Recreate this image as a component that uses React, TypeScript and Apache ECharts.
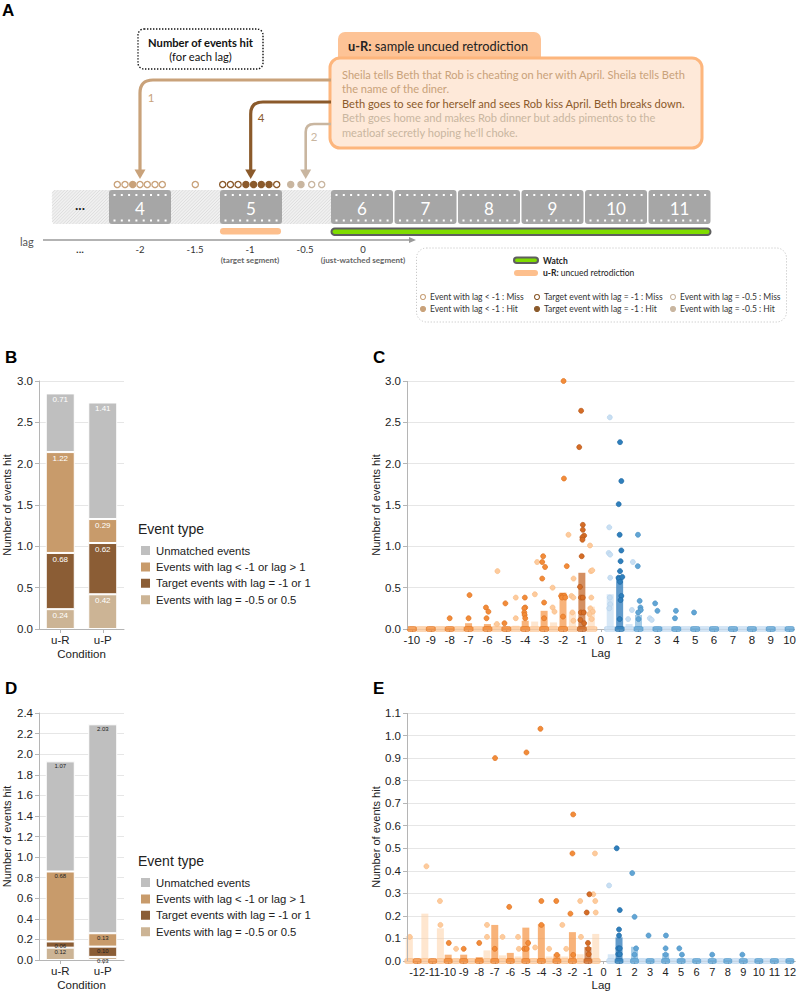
import React, { useEffect, useRef } from 'react';
import * as echarts from 'echarts';

// ---------------- DATA ----------------
const conditions = ['u-R', 'u-P'];
const eventTypes = [
  'Unmatched events',
  'Events with lag < -1 or lag > 1',
  'Target events with lag = -1 or 1',
  'Events with lag = -0.5 or 0.5',
];
// Panel B
const B_unmatched = [0.71, 1.41];
const B_otherLag = [1.22, 0.29];
const B_target = [0.68, 0.62];
const B_halfLag = [0.24, 0.42];
// Panel D
const D_unmatched = [1.07, 2.03];
const D_otherLag = [0.68, 0.13];
const D_target = [0.06, 0.1];
const D_halfLag = [0.12, 0.03];

// Panel C
const C_ticks = [-10, -9, -8, -7, -6, -5, -4, -3, -2, -1, 0, 1, 2, 3, 4, 5, 6, 7, 8, 9, 10];
const C_R_lags = [-10, -9.5, -9, -8.5, -8, -7.5, -7, -6.5, -6, -5.5, -5, -4.5, -4, -3.5, -3, -2.5, -2, -1.5, -1, -0.5];
const C_R_means = [0, 0.005, 0.005, 0.005, 0.01, 0.01, 0.07, 0.015, 0.06, 0.07, 0.02, 0.04, 0.1, 0.09, 0.22, 0.08, 0.44, 0.2, 0.68, 0.27];
const C_P_lags = [0.5, 1, 1.5, 2, 2.5, 3, 3.5, 4, 4.5, 5, 5.5, 6, 6.5, 7, 7.5, 8, 8.5, 9, 9.5, 10];
const C_P_means = [0.42, 0.61, 0.06, 0.17, 0.02, 0.02, 0.01, 0.02, 0.01, 0.01, 0.01, 0.01, 0.005, 0.005, 0.005, 0.005, 0.005, 0.005, 0.005, 0.005];
const C_R_medDots = [
  [-1.97, 3.0], [-1.95, 1.82], [-1.8, 0.76], [-2.1, 0.4], [-2.0, 0.4], [-1.92, 0.4], [-2.05, 0.38], [-1.88, 0.38], [-2.0, 0.15],
  [-3.05, 0.88], [-3.1, 0.81], [-2.95, 0.75], [-3.1, 0.61], [-3.0, 0.32], [-3.0, 0.13],
  [-4.02, 0.38], [-4.0, 0.26], [-4.05, 0.25], [-4.05, 0.2], [-4.03, 0.17], [-4.0, 0.13],
  [-5.05, 0.31], [-5.1, 0.07], [-6.08, 0.26], [-5.95, 0.21], [-6.05, 0.13], [-6.95, 0.41], [-7.0, 0.13], [-8.0, 0.13],
];
const C_R_targetDots = [
  [-1.04, 2.64], [-1.14, 2.2], [-0.95, 1.26], [-0.95, 1.2], [-0.88, 1.13], [-0.97, 1.11], [-0.97, 1.08], [-1.01, 0.88],
  [-1.1, 0.51], [-1.05, 0.38], [-0.95, 0.38], [-1.05, 0.2], [-0.9, 0.2], [-1.08, 0.11], [-0.88, 0.07],
];
const C_R_lightDots = [
  [-5.47, 0.7], [-3.37, 0.81], [-1.71, 1.14], [-0.57, 1.01], [-0.52, 0.7], [-0.45, 0.71], [-1.44, 0.61], [-2.55, 0.5],
  [-3.49, 0.42], [-4.5, 0.38], [-1.55, 0.4], [-1.45, 0.38], [-0.5, 0.38], [-2.55, 0.26], [-2.45, 0.21], [-4.5, 0.13],
  [-0.55, 0.25], [-0.42, 0.21], [-0.6, 0.18], [-0.48, 0.12], [-1.5, 0.2], [-1.45, 0.1], [-5.5, 0.06],
];
const C_P_targetDots = [
  [1.02, 2.26], [1.09, 1.79], [0.95, 1.51], [1.0, 1.14], [1.09, 0.95], [1.05, 0.82], [1.02, 0.7], [0.94, 0.62],
  [0.98, 0.61], [1.14, 0.63], [1.02, 0.57], [1.09, 0.4], [1.05, 0.35], [1.0, 0.12],
];
const C_P_medDots = [
  [1.97, 1.14], [1.96, 0.76], [2.06, 0.34], [2.1, 0.26], [2.12, 0.23], [1.98, 0.2], [2.0, 0.12],
  [2.88, 0.31], [3.0, 0.22], [3.98, 0.22], [3.93, 0.13], [4.94, 0.2],
];
const C_P_lightDots = [
  [0.48, 2.56], [0.45, 1.23], [0.42, 0.92], [0.5, 0.9], [0.5, 0.62], [0.48, 0.38], [0.5, 0.3], [0.45, 0.25],
  [1.7, 0.81], [1.65, 0.23], [1.45, 0.12], [2.6, 0.13], [2.7, 0.11],
];
const C_zeroRMed = [-10, -9, -8, -7, -6, -5, -4, -3, -2];
const C_zeroRTarget = [-1];
const C_zeroRLight = [-9.5, -8.5, -7.5, -6.5, -5.5, -4.5, -3.5, -2.5, -1.5, -0.5];
const C_zeroPTarget = [1];
const C_zeroPMed = [2, 3, 4, 5, 6, 7, 8, 9, 10];
const C_zeroPLight = [0.5, 1.5, 2.5, 3.5, 4.5, 5.5, 6.5, 7.5, 8.5, 9.5];

// Panel E
const E_ticks = [-12, -11, -10, -9, -8, -7, -6, -5, -4, -3, -2, -1, 0, 1, 2, 3, 4, 5, 6, 7, 8, 9, 10, 11, 12];
const E_R_lags = [-12.5, -12, -11.5, -11, -10.5, -10, -9.5, -9, -8.5, -8, -7.5, -7, -6.5, -6, -5.5, -5, -4.5, -4, -3.5, -3, -2.5, -2, -1.5, -1, -0.5];
const E_R_means = [0.11, 0, 0.21, 0, 0.145, 0.028, 0.01, 0.028, 0.01, 0.017, 0.047, 0.16, 0.025, 0.036, 0.02, 0.148, 0.012, 0.163, 0.02, 0.03, 0.02, 0.128, 0.03, 0.062, 0.12];
const E_P_lags = [0.5, 1, 1.5, 2, 2.5, 3, 3.5, 4, 4.5, 5, 5.5, 6, 6.5, 7, 7.5, 8, 8.5, 9, 9.5, 10, 10.5, 11, 11.5, 12];
const E_P_means = [0.03, 0.105, 0.01, 0.063, 0.008, 0.006, 0.006, 0.035, 0.006, 0.01, 0.006, 0.005, 0.005, 0.005, 0.005, 0.005, 0.005, 0.005, 0.005, 0.005, 0.005, 0.005, 0.005, 0.005];
const E_R_medDots = [
  [-4.06, 1.03], [-4.96, 0.925], [-6.98, 0.9], [-1.95, 0.65], [-2.0, 0.477], [-6.07, 0.24], [-4.0, 0.266], [-3.04, 0.266],
  [-2.13, 0.21], [-4.0, 0.16], [-7.0, 0.054], [-5.1, 0.054], [-4.95, 0.054], [-4.85, 0.08], [-3.0, 0.027], [-1.95, 0.027],
  [-9.96, 0.08], [-9.0, 0.054], [-8.0, 0.08],
];
const E_R_targetDots = [[-0.91, 0.296], [-1.08, 0.215], [-1.0, 0.08], [-0.98, 0.054], [-0.95, 0.03]];
const E_R_lightDots = [
  [-11.4, 0.42], [-10.53, 0.266], [-10.5, 0.16], [-12.47, 0.107], [-9.49, 0.054], [-7.5, 0.16], [-7.5, 0.107], [-6.5, 0.107],
  [-5.5, 0.107], [-5.45, 0.054], [-4.4, 0.06], [-3.5, 0.054], [-2.65, 0.16], [-2.4, 0.054], [-1.5, 0.266], [-1.45, 0.107],
  [-0.55, 0.477], [-0.66, 0.296], [-0.53, 0.266], [-0.5, 0.215],
];
const E_P_targetDots = [[0.85, 0.5], [1.05, 0.226], [1.0, 0.14], [1.0, 0.113], [0.95, 0.056], [1.05, 0.056], [0.95, 0.03], [1.05, 0.03]];
const E_P_medDots = [
  [1.85, 0.39], [2.0, 0.196], [2.1, 0.056], [2.0, 0.028], [2.9, 0.113], [4.02, 0.113], [4.0, 0.056], [4.0, 0.028],
  [4.88, 0.056], [5.05, 0.028], [7.0, 0.028], [8.94, 0.028],
];
const E_P_lightDots = [[0.36, 0.335]];
const E_zeroRMed = [-12, -11, -10, -9, -8, -7, -6, -5, -4, -3, -2];
const E_zeroRTarget = [-1];
const E_zeroRLight = [-12.5, -11.5, -10.5, -9.5, -8.5, -7.5, -6.5, -5.5, -4.5, -3.5, -2.5, -1.5, -0.5];
const E_zeroPTarget = [1];
const E_zeroPMed = [2, 3, 4, 5, 6, 7, 8, 9, 10, 11, 12];
const E_zeroPLight = [0.5, 1.5, 2.5, 3.5, 4.5, 5.5, 6.5, 7.5, 8.5, 9.5, 10.5, 11.5];

// Panel A diagram contents
const storyLines = [
  'Sheila tells Beth that Rob is cheating on her with April. Sheila tells Beth',
  'the name of the diner.',
  'Beth goes to see for herself and sees Rob kiss April. Beth breaks down.',
  'Beth goes home and makes Rob dinner but adds pimentos to the',
  "meatloaf secretly hoping he'll choke.",
];
const segmentNumbers = ['4', '5', '6', '7', '8', '9', '10', '11'];
const segmentX = [109, 220, 331, 394.5, 458, 521.5, 585, 648.5];
const lagLabels = ['...', '-2', '-1.5', '-1', '-0.5', '0'];
const lagLabelX = [80, 140, 195, 250, 305, 363];
const dotsOtherX = [117.3, 125, 132.7, 140, 147.3, 155, 162.3, 195.3];
const dotsOtherHit = [0, 0, 1, 0, 0, 0, 0, 0];
const dotsTargetX = [222.7, 230.4, 238.1, 245.9, 253.6, 261.3, 269, 276.7];
const dotsTargetHit = [0, 0, 0, 1, 1, 1, 1, 0];
const dotsHalfX = [290.7, 301, 311.7, 321.7];
const dotsHalfHit = [1, 1, 0, 0];

// ---------------- STYLE ----------------
const FONT = 'Liberation Sans, Arial, sans-serif';
const AFONT = 'Lato, Open Sans, sans-serif';
const COL = {
  unmatched: '#bfbfbf',
  other: '#c89b6b',
  target: '#8b5d35',
  half: '#ccb495',
};
const TAN = '#c9a27a';
const BROWN = '#8b5a2b';
const LTAN = '#c9b6a0';
const DOTS = {
  rMed: { fill: '#f28c3a', stroke: '#e0731f', bar: 'rgba(245,150,70,0.72)' },
  rTarget: { fill: '#d56d26', stroke: '#b8581a', bar: 'rgba(200,112,52,0.78)' },
  rLight: { fill: '#fdcb9d', stroke: '#f9bb84', bar: 'rgba(253,205,160,0.5)' },
  pTarget: { fill: '#2f7fbc', stroke: '#1f6aa5', bar: 'rgba(58,130,190,0.8)' },
  pMed: { fill: '#62a5d4', stroke: '#4a92c6', bar: 'rgba(112,172,216,0.62)' },
  pLight: { fill: '#c9dff2', stroke: '#b6d3ec', bar: 'rgba(196,221,242,0.7)' },
};
const AXIS_GREY = '#b5b5b5';

function barColor(lag: number) {
  if (lag < 0) {
    if (lag === -1) return DOTS.rTarget.bar;
    return Number.isInteger(lag) ? DOTS.rMed.bar : DOTS.rLight.bar;
  }
  if (lag === 1) return DOTS.pTarget.bar;
  return Number.isInteger(lag) ? DOTS.pMed.bar : DOTS.pLight.bar;
}

function txt(x: number, y: number, text: string, o: any = {}) {
  const align = o.align || 'left';
  return {
    type: 'text',
    x,
    y,
    silent: true,
    z: o.z || 10,
    style: {
      text,
      fill: o.color || '#333',
      fontSize: o.size || 10,
      fontWeight: o.weight || 'normal',
      fontFamily: o.font || AFONT,
      align,
      textAlign: align,
      verticalAlign: 'middle',
      textVerticalAlign: 'middle',
      rich: o.rich,
    },
  };
}

// Register arrow paths
echarts.graphic.registerShape('arrowPathA', echarts.graphic.extendPath('M331 80 L153 80 Q140 80 140 93 L140 171', {}));
echarts.graphic.registerShape('arrowPathB', echarts.graphic.extendPath('M331 102 L263 102 Q250.7 102 250.7 114 L250.7 171', {}));
echarts.graphic.registerShape('arrowPathC', echarts.graphic.extendPath('M331 124 L314 124 Q305.7 124 305.7 132 L305.7 171', {}));

function panelA(): any[] {
  const els: any[] = [];
  els.push(txt(2, 10, 'A', { size: 17, weight: 'bold', font: FONT, color: '#000' }));
  // Number of events hit box
  els.push({
    type: 'rect', silent: true, shape: { x: 138, y: 29, width: 125, height: 40, r: 6 },
    style: { fill: 'none', stroke: '#111', lineWidth: 1.4, lineDash: [1.4, 1.6] },
  });
  els.push(txt(200.5, 42, 'Number of events hit', { size: 11.2, weight: 'bold', align: 'center', color: '#111' }));
  els.push(txt(200.5, 56, '(for each lag)', { size: 11.2, align: 'center', color: '#111' }));
  // tab + story box
  els.push({ type: 'rect', silent: true, shape: { x: 338, y: 32, width: 203, height: 32, r: [7, 7, 0, 0] }, style: { fill: '#fdc396' } });
  els.push(txt(348, 46, '{b|u-R:} sample uncued retrodiction', {
    size: 12.8, color: '#222', rich: { b: { fontWeight: 'bold', fontSize: 12.8, fontFamily: AFONT, fill: '#222', color: '#222' } },
  }));
  els.push({
    type: 'rect', silent: true, shape: { x: 330, y: 58, width: 372, height: 90, r: 10 },
    style: { fill: '#fee9d9', stroke: '#fdb67d', lineWidth: 3 },
  });
  const lineCols = [TAN, TAN, BROWN, LTAN, LTAN];
  storyLines.forEach((s, i) => {
    els.push(txt(342, 74 + i * 14.5, s, { size: 11.1, color: lineCols[i] }));
  });
  // arrows
  els.push({ type: 'arrowPathA', silent: true, style: { fill: 'none', stroke: TAN, lineWidth: 3.2 } });
  els.push({ type: 'arrowPathB', silent: true, style: { fill: 'none', stroke: BROWN, lineWidth: 3.2 } });
  els.push({ type: 'arrowPathC', silent: true, style: { fill: 'none', stroke: LTAN, lineWidth: 2.6 } });
  [[140, TAN], [250.7, BROWN], [305.7, LTAN]].forEach(([x, c]: any) => {
    els.push({ type: 'polygon', silent: true, shape: { points: [[x - 5.5, 169.5], [x + 5.5, 169.5], [x, 179]] }, style: { fill: c } });
  });
  els.push(txt(151, 97, '1', { size: 11.5, color: TAN, align: 'center' }));
  els.push(txt(261, 117, '4', { size: 11.5, color: BROWN, align: 'center' }));
  els.push(txt(314, 136, '2', { size: 11.5, color: LTAN, align: 'center' }));
  // dots
  const dot = (x: number, hit: number, c: string) => ({
    type: 'circle', silent: true, shape: { cx: x, cy: 184.5, r: 3.1 },
    style: { fill: hit ? c : '#fff', stroke: c, lineWidth: 1.3 },
  });
  dotsOtherX.forEach((x, i) => els.push(dot(x, dotsOtherHit[i], TAN)));
  dotsTargetX.forEach((x, i) => els.push(dot(x, dotsTargetHit[i], BROWN)));
  dotsHalfX.forEach((x, i) => els.push(dot(x, dotsHalfHit[i], LTAN)));
  // hatched band
  const bx = 52, by = 190, bw = 280, bh = 34;
  els.push({ type: 'rect', silent: true, shape: { x: bx, y: by, width: bw, height: bh, r: [4, 0, 0, 4] }, style: { fill: '#f0f0f0' } });
  for (let t = bx - bh; t < bx + bw; t += 3.2) {
    let x1 = t, y1 = by + bh, x2 = t + bh, y2 = by;
    if (x1 < bx) { y1 = by + bh - (bx - x1); x1 = bx; }
    if (x2 > bx + bw) { y2 = by + (x2 - (bx + bw)); x2 = bx + bw; }
    els.push({ type: 'line', silent: true, shape: { x1, y1, x2, y2 }, style: { stroke: '#d6d6d6', lineWidth: 0.7 } });
  }
  els.push(txt(80, 206, '...', { size: 12, weight: 'bold', color: '#222', align: 'center', font: FONT }));
  // film frames
  segmentNumbers.forEach((n, i) => {
    const x = segmentX[i], w = 62;
    els.push({ type: 'rect', silent: true, shape: { x, y: 190, width: w, height: 34, r: 3 }, style: { fill: '#a6a6a6' } });
    els.push({ type: 'line', silent: true, shape: { x1: x + 4.5, y1: 195, x2: x + w - 3, y2: 195 }, style: { stroke: '#fff', lineWidth: 2, lineDash: [2, 5.3] } });
    els.push({ type: 'line', silent: true, shape: { x1: x + 4.5, y1: 220.5, x2: x + w - 3, y2: 220.5 }, style: { stroke: '#fff', lineWidth: 2, lineDash: [2, 5.3] } });
    els.push(txt(x + w / 2, 208, n, { size: 17, color: '#fff', align: 'center' }));
  });
  // retrodiction and watch bars
  els.push({ type: 'rect', silent: true, shape: { x: 220, y: 228, width: 61, height: 6.5, r: 3.2 }, style: { fill: '#fdbf8d' } });
  els.push({ type: 'rect', silent: true, shape: { x: 331.5, y: 228.5, width: 379, height: 6.5, r: 3.5 }, style: { fill: '#7fdc00', stroke: '#5e5e5e', lineWidth: 2 } });
  // lag axis
  els.push(txt(20, 241, 'lag', { size: 11, color: '#555' }));
  els.push({ type: 'line', silent: true, shape: { x1: 43, y1: 240, x2: 412, y2: 240 }, style: { stroke: '#9a9a9a', lineWidth: 1.3 } });
  els.push({ type: 'polygon', silent: true, shape: { points: [[409, 237], [416, 240], [409, 243]] }, style: { fill: '#9a9a9a' } });
  lagLabels.forEach((l, i) => els.push(txt(lagLabelX[i], 249, l, {
    size: 9.5, color: '#333', align: 'center', font: l === '...' ? FONT : AFONT, weight: l === '...' ? 'bold' : 'normal',
  })));
  els.push(txt(250, 259.5, '(target segment)', { size: 8.1, color: '#666', align: 'center', weight: 'bold' }));
  els.push(txt(363, 259.5, '(just-watched segment)', { size: 8.1, color: '#666', align: 'center', weight: 'bold' }));
  // legend box
  els.push({
    type: 'rect', silent: true, shape: { x: 416.5, y: 248, width: 370, height: 74, r: 10 },
    style: { fill: 'none', stroke: '#bdbdbd', lineWidth: 1, lineDash: [1, 2] },
  });
  els.push({ type: 'rect', silent: true, shape: { x: 514, y: 257.5, width: 24, height: 5.5, r: 3 }, style: { fill: '#7fdc00', stroke: '#5e5e5e', lineWidth: 2 } });
  els.push(txt(543, 260.5, 'Watch', { size: 8.5, weight: 'bold', color: '#222' }));
  els.push({ type: 'rect', silent: true, shape: { x: 514, y: 270, width: 24, height: 6, r: 3 }, style: { fill: '#fdbf8d' } });
  els.push(txt(543, 273, '{b|u-R:} uncued retrodiction', {
    size: 8.5, color: '#222', rich: { b: { fontWeight: 'bold', fontSize: 8.5, fontFamily: AFONT, fill: '#222', color: '#222' } },
  }));
  const legCols = [TAN, BROWN, LTAN];
  const legX = [423, 537, 673];
  const legTxt = [
    ['Event with lag < -1 : Miss', 'Target event with lag = -1 : Miss', 'Event with lag = -0.5 : Miss'],
    ['Event with lag < -1 : Hit', 'Target event with lag = -1 : Hit', 'Event with lag = -0.5 : Hit'],
  ];
  [297, 309].forEach((yy, row) => {
    legX.forEach((x, k) => {
      els.push({
        type: 'circle', silent: true, shape: { cx: x, cy: yy, r: 2.5 },
        style: { fill: row === 1 ? legCols[k] : '#fff', stroke: legCols[k], lineWidth: 1.1 },
      });
      els.push(txt(x + 7, yy, legTxt[row][k], { size: 8.5, color: '#333' }));
    });
  });
  return els;
}

function buildOption(): any {
  const yAxis = (grid: number, max: number, interval: number, gap: number, showLine: boolean) => ({
    type: 'value', gridIndex: grid, min: 0, max, interval, position: 'left',
    name: 'Number of events hit', nameLocation: 'middle', nameGap: gap,
    nameTextStyle: { fontSize: 11, color: '#222', fontFamily: FONT },
    axisLine: { show: showLine, onZero: false, lineStyle: { color: AXIS_GREY } },
    axisTick: { show: true, length: 4, lineStyle: { color: AXIS_GREY } },
    axisLabel: { fontSize: 11.5, color: '#222', margin: 6, fontFamily: FONT, formatter: (v: number) => v.toFixed(1) },
    splitLine: { show: true, lineStyle: { color: '#e6e6e6' } },
  });
  const catX = (grid: number) => ({
    type: 'category', gridIndex: grid, data: conditions,
    name: 'Condition', nameLocation: 'middle', nameGap: 19,
    nameTextStyle: { fontSize: 11.5, color: '#222', fontFamily: FONT },
    axisLine: { show: true, lineStyle: { color: AXIS_GREY } },
    axisTick: { show: true, alignWithLabel: true, length: 4, lineStyle: { color: AXIS_GREY } },
    axisLabel: { fontSize: 11.5, color: '#222', margin: 5, fontFamily: FONT },
  });
  const valX = (grid: number, min: number, max: number, ticks: number[], gap: number, fs: number) => ({
    type: 'value', gridIndex: grid, min, max, position: 'bottom',
    name: 'Lag', nameLocation: 'middle', nameGap: gap,
    nameTextStyle: { fontSize: 11.5, color: '#222', fontFamily: FONT },
    axisLine: { show: true, onZero: false, lineStyle: { color: AXIS_GREY } },
    axisTick: { show: true, length: 3, customValues: ticks, lineStyle: { color: AXIS_GREY } },
    axisLabel: {
      fontSize: fs, color: '#222', margin: 5, fontFamily: FONT, customValues: ticks,
      interval: 0, hideOverlap: false, showMinLabel: true, showMaxLabel: true,
    },
    splitLine: { show: false },
    splitArea: { show: false },
    minorSplitLine: { show: false },
  });

  const stack = (id: string, xi: number, vals: number[][], labelColor: string, labelSize: number) => {
    const cols = [COL.half, COL.target, COL.other, COL.unmatched];
    const names = [eventTypes[3], eventTypes[2], eventTypes[1], eventTypes[0]];
    return vals.map((v, k) => ({
      type: 'bar', name: names[k], stack: id, xAxisIndex: xi, yAxisIndex: xi, barWidth: 29, data: v,
      itemStyle: { color: cols[k], borderColor: '#fff', borderWidth: 1 },
      label: {
        show: true, position: 'insideTop', distance: labelSize > 7 ? 2.5 : 1.5, color: labelColor, fontSize: labelSize,
        fontFamily: FONT, formatter: (p: any) => p.value.toFixed(2),
      },
      silent: true,
    }));
  };

  const dotSeries = (xi: number, pts: number[][], st: any) => ({
    type: 'scatter', xAxisIndex: xi, yAxisIndex: xi, data: pts, symbolSize: 5, silent: true,
    itemStyle: { color: st.fill, borderColor: st.stroke, borderWidth: 0.7, opacity: 1 },
  });
  const zeroSeries = (xi: number, lags: number[], st: any, w: number) => ({
    type: 'scatter', xAxisIndex: xi, yAxisIndex: xi, data: lags.map((l) => [l, 0]), symbol: 'roundRect',
    symbolSize: [w, 5], silent: true,
    itemStyle: { color: st.fill, borderColor: st.stroke, borderWidth: 0.7 },
  });
  const barSeries = (xi: number, rl: number[], rm: number[], pl: number[], pm: number[]) => ({
    type: 'bar', xAxisIndex: xi, yAxisIndex: xi, barWidth: 7, silent: true,
    data: rl.map((l, i) => [l, rm[i]]).concat(pl.map((l, i) => [l, pm[i]])),
    itemStyle: { color: (p: any) => barColor(p.value[0]) },
  });

  const series: any[] = [
    ...stack('B', 0, [B_halfLag, B_target, B_otherLag, B_unmatched], '#fff', 8),
    ...stack('D', 2, [D_halfLag, D_target, D_otherLag, D_unmatched], '#222', 6),
    barSeries(1, C_R_lags, C_R_means, C_P_lags, C_P_means),
    zeroSeries(1, C_zeroRLight, DOTS.rLight, 11),
    zeroSeries(1, C_zeroPLight, DOTS.pLight, 11),
    zeroSeries(1, C_zeroRMed, DOTS.rMed, 9),
    zeroSeries(1, C_zeroRTarget, DOTS.rTarget, 9),
    zeroSeries(1, C_zeroPTarget, DOTS.pTarget, 9),
    zeroSeries(1, C_zeroPMed, DOTS.pMed, 9),
    dotSeries(1, C_R_lightDots, DOTS.rLight),
    dotSeries(1, C_P_lightDots, DOTS.pLight),
    dotSeries(1, C_R_medDots, DOTS.rMed),
    dotSeries(1, C_P_medDots, DOTS.pMed),
    dotSeries(1, C_R_targetDots, DOTS.rTarget),
    dotSeries(1, C_P_targetDots, DOTS.pTarget),
    barSeries(3, E_R_lags, E_R_means, E_P_lags, E_P_means),
    zeroSeries(3, E_zeroRLight, DOTS.rLight, 9),
    zeroSeries(3, E_zeroPLight, DOTS.pLight, 9),
    zeroSeries(3, E_zeroRMed, DOTS.rMed, 8),
    zeroSeries(3, E_zeroRTarget, DOTS.rTarget, 8),
    zeroSeries(3, E_zeroPTarget, DOTS.pTarget, 8),
    zeroSeries(3, E_zeroPMed, DOTS.pMed, 8),
    dotSeries(3, E_R_lightDots, DOTS.rLight),
    dotSeries(3, E_P_lightDots, DOTS.pLight),
    dotSeries(3, E_R_medDots, DOTS.rMed),
    dotSeries(3, E_P_medDots, DOTS.pMed),
    dotSeries(3, E_R_targetDots, DOTS.rTarget),
    dotSeries(3, E_P_targetDots, DOTS.pTarget),
  ];

  const legend = (top: number) => ({
    data: eventTypes, orient: 'vertical', left: 134, top, padding: 5,
    itemWidth: 11, itemHeight: 11, itemGap: 3.4, icon: 'rect', selectedMode: false,
    textStyle: { fontSize: 11.3, color: '#222', fontFamily: FONT },
  });

  const graphics: any[] = [
    ...panelA(),
    txt(5, 357, 'B', { size: 17, weight: 'bold', font: FONT, color: '#000' }),
    txt(373, 357, 'C', { size: 17, weight: 'bold', font: FONT, color: '#000' }),
    txt(5, 688, 'D', { size: 17, weight: 'bold', font: FONT, color: '#000' }),
    txt(373, 688, 'E', { size: 17, weight: 'bold', font: FONT, color: '#000' }),
    txt(138, 529, 'Event type', { size: 14, font: FONT, color: '#222' }),
    txt(138, 861, 'Event type', { size: 14, font: FONT, color: '#222' }),
    // left axis lines of the scatter panels
    { type: 'line', silent: true, z: 5, shape: { x1: 407.5, y1: 381, x2: 407.5, y2: 629 }, style: { stroke: AXIS_GREY, lineWidth: 1 } },
    { type: 'line', silent: true, z: 5, shape: { x1: 407.5, y1: 713, x2: 407.5, y2: 961 }, style: { stroke: AXIS_GREY, lineWidth: 1 } },
  ];

  return {
    animation: false,
    backgroundColor: '#fff',
    textStyle: { fontFamily: FONT },
    grid: [
      { left: 39, top: 381, width: 85, height: 248 },
      { left: 407, top: 381, width: 391, height: 248 },
      { left: 39, top: 713, width: 85, height: 248 },
      { left: 407, top: 713, width: 391, height: 248 },
    ],
    xAxis: [
      catX(0),
      valX(1, -10.26, 10.26, C_ticks, 18, 11.5),
      catX(2),
      valX(3, -12.65, 12.35, E_ticks, 18, 11),
    ],
    yAxis: [
      yAxis(0, 3, 0.5, 27, true),
      yAxis(1, 3, 0.5, 24, false),
      yAxis(2, 2.4, 0.2, 27, true),
      yAxis(3, 1.1, 0.1, 24, false),
    ],
    legend: [legend(539), legend(871)],
    series,
    graphic: { elements: graphics },
  };
}

export default function App() {
  const ref = useRef<HTMLDivElement>(null);
  useEffect(() => {
    const chart = echarts.init(ref.current as HTMLDivElement, null, { renderer: 'svg', width: 799, height: 992 });
    chart.setOption(buildOption());
    return () => chart.dispose();
  }, []);
  return <div ref={ref} style={{ position: 'absolute', left: 0, top: 0, width: 799, height: 992 }} />;
}
